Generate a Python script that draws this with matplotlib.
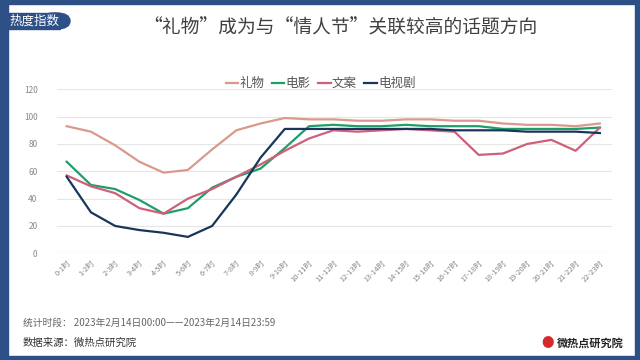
import matplotlib
matplotlib.use("Agg")
import matplotlib.pyplot as plt
from matplotlib.patches import FancyBboxPatch, Rectangle

plt.rcParams['font.family'] = ['Noto Sans CJK SC', 'DejaVu Sans']

hours = [f"{i}-{i+1}时" for i in range(23)]
gift = [93, 89, 79, 67, 59, 61, 76, 90, 95, 99, 98, 98, 97, 97, 98, 98, 97, 97, 95, 94, 94, 93, 95]
movie = [67, 50, 47, 39, 29, 33, 48, 56, 62, 77, 93, 94, 93, 93, 94, 93, 93, 93, 91, 91, 91, 91, 92]
copy_ = [57, 49, 44, 33, 29, 40, 47, 56, 65, 75, 84, 90, 89, 90, 91, 90, 89, 72, 73, 80, 83, 75, 92]
tv = [56, 30, 20, 17, 15, 12, 20, 43, 70, 91, 91, 91, 91, 91, 91, 91, 90, 90, 90, 89, 89, 89, 88]

series = [("礼物", gift, "#d99a8a"), ("电影", movie, "#1e9e68"),
          ("文案", copy_, "#cf5f7a"), ("电视剧", tv, "#17365a")]

fig = plt.figure(figsize=(6.4, 3.6), dpi=100)
fig.patch.set_facecolor("white")

border = "#2d5087"
# frame borders
fig.add_artist(Rectangle((0, 0), 8/640, 1, transform=fig.transFigure, color=border, zorder=0))
fig.add_artist(Rectangle((0, 1-4/360), 1, 4/360, transform=fig.transFigure, color=border, zorder=0))
fig.add_artist(Rectangle((1-5/640, 0), 5/640, 1, transform=fig.transFigure, color=border, zorder=0))
fig.add_artist(Rectangle((0, 0), 1, 4/360, transform=fig.transFigure, color=border, zorder=0))

# tag (rounded on the right side)
fig.add_artist(Rectangle((0, 1-29/360), 60/640, 16/360, transform=fig.transFigure, color=border, zorder=1))
fig.add_artist(FancyBboxPatch((40/640, 1-29/360), 30/640, 16/360, boxstyle="round,pad=0,rounding_size=0.022",
                              transform=fig.transFigure, color=border, zorder=1))
fig.text(34/640, 1-21/360, "热度指数", color="white", fontsize=9, ha="center", va="center", zorder=2)

fig.text(340/640, 1-28/360, "“礼物”成为与“情人节”关联较高的话题方向", fontsize=13.5,
         color="#404040", ha="center", va="center")

ax = fig.add_axes([57/640, (360-253.3)/360, (612-57)/640, (253.3-89.3)/360])
x = list(range(len(hours)))
for name, vals, col in series:
    ax.plot(x, vals, color=col, lw=1.6, label=name)

ax.set_ylim(0, 120)
ax.set_yticks(range(0, 121, 20))
ax.set_xlim(-0.4, 22.5)
ax.set_xticks(x)
ax.set_xticklabels(hours, rotation=45, ha="right", rotation_mode="anchor", fontsize=5.5, color="#888888")
ax.tick_params(axis="y", labelsize=6, colors="#888888", length=0, pad=14)
ax.tick_params(axis="x", length=0, pad=4)
ax.grid(axis="y", color="#e6e6e6", lw=0.8)
ax.set_axisbelow(True)
for s in ax.spines.values():
    s.set_visible(False)
ax.axhline(0, color="#d9d9d9", lw=0.8)

leg = ax.legend(loc="lower center", bbox_to_anchor=(0.475, 0.965), ncol=4, frameon=False,
                fontsize=9, handlelength=1.0, handletextpad=0.1, columnspacing=0.6, borderaxespad=0)
for t in leg.get_texts():
    t.set_color("#555555")

fig.text(23/640, 1-323/360, "统计时段： 2023年2月14日00:00——2023年2月14日23:59", fontsize=7,
         color="#666666", ha="left", va="center")
fig.text(23/640, 1-343/360, "数据来源：微热点研究院", fontsize=7.5, color="#333333", ha="left", va="center")

fig.text(548/640, 1-343/360, "●", fontsize=9, color="#d42a2a", ha="center", va="center")
fig.text(557/640, 1-343/360, "微热点研究院", fontsize=8, color="#222222", ha="left", va="center",
         fontweight="bold")

fig.savefig("out.png", dpi=100)
